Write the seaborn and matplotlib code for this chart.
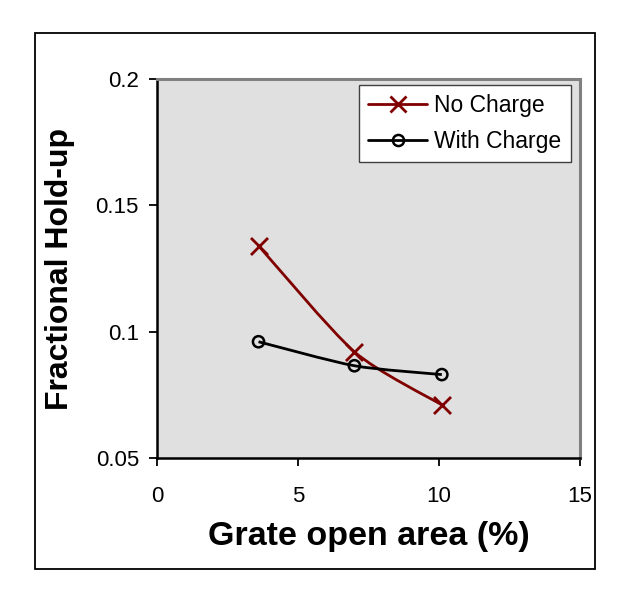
import numpy as np
import pandas as pd
import matplotlib
matplotlib.use("Agg")
import matplotlib.pyplot as plt
import seaborn as sns
from matplotlib.path import Path
from matplotlib.patches import PathPatch, Rectangle

# Values
open_area_no = [3.6, 7.0, 10.1]
holdup_no = [0.134, 0.092, 0.071]
open_area_with = [3.6, 7.0, 10.1]
holdup_with = [0.096, 0.0865, 0.083]
x_ticks = [0, 5, 10, 15]
y_ticks = [0.05, 0.1, 0.15, 0.2]
y_tick_labels = ["0.05", "0.1", "0.15", "0.2"]

df = pd.concat([
    pd.DataFrame({"area": open_area_no, "holdup": holdup_no, "series": "No Charge"}),
    pd.DataFrame({"area": open_area_with, "holdup": holdup_with, "series": "With Charge"}),
])

sns.set_style("white")
plt.rcParams['font.family'] = ['Liberation Sans', 'DejaVu Sans']
plt.rcParams['text.color'] = 'black'
plt.rcParams['axes.labelcolor'] = 'black'
plt.rcParams['xtick.color'] = 'black'
plt.rcParams['ytick.color'] = 'black'

fig = plt.figure(figsize=(6.28, 5.95), dpi=100)
ax = fig.add_axes([0.25, 0.2303, 0.6736, 0.6370])
ax.set_facecolor('#e0e0e0')

colors = {"No Charge": "#800000", "With Charge": "#000000"}


def smooth_path(xs, ys, k=8.0):
    # Excel-style smoothed line drawn as cubic Bezier segments
    pts = np.column_stack([xs, ys])
    n = len(pts)
    verts = [pts[0]]
    codes = [Path.MOVETO]
    for i in range(n - 1):
        p0 = pts[max(i - 1, 0)]
        p1 = pts[i]
        p2 = pts[i + 1]
        p3 = pts[min(i + 2, n - 1)]
        c1 = p1 + (p2 - p0) / k
        c2 = p2 - (p3 - p1) / k
        verts += [c1, c2, p2]
        codes += [Path.CURVE4] * 3
    return Path(verts, codes)


for name, grp in df.groupby("series"):
    ax.add_patch(PathPatch(smooth_path(grp["area"].values, grp["holdup"].values),
                           facecolor='none', edgecolor=colors[name], lw=2, zorder=2))

sns.scatterplot(data=df[df.series == "No Charge"], x="area", y="holdup", ax=ax,
                marker="x", color="#800000", s=150, linewidth=2, zorder=3, legend=False)
sns.scatterplot(data=df[df.series == "With Charge"], x="area", y="holdup", ax=ax,
                marker="o", facecolor='none', edgecolor="black", s=65, linewidth=1.8,
                zorder=3, legend=False)

# legend handles
h1, = ax.plot([], [], color="#800000", marker="x", markersize=12, mew=2, lw=2, label="No Charge")
h2, = ax.plot([], [], color="black", marker="o", markersize=8, mfc='none', mew=1.8, lw=2,
              label="With Charge")
leg = ax.legend(handles=[h1, h2], loc='upper right', bbox_to_anchor=(0.983, 0.99),
                fontsize=16.5, frameon=True, fancybox=False, framealpha=1,
                edgecolor='#404040', borderpad=0.4, handlelength=2.6,
                handletextpad=0.3, labelspacing=0.55, borderaxespad=0.1)
leg.get_frame().set_linewidth(1.0)

ax.set_xlim(0, 15)
ax.set_ylim(0.05, 0.2)
ax.set_xticks(x_ticks)
ax.set_xticklabels([str(t) for t in x_ticks])
ax.set_yticks(y_ticks)
ax.set_yticklabels(y_tick_labels)
ax.tick_params(axis='both', labelsize=16, direction='out', length=6, width=1.3,
               color='black', left=True, bottom=True)
ax.tick_params(axis='x', pad=14)
ax.tick_params(axis='y', pad=7)

for side in ['left', 'bottom']:
    ax.spines[side].set_color('black')
    ax.spines[side].set_linewidth(1.8)
for side in ['top', 'right']:
    ax.spines[side].set_color('#808080')
    ax.spines[side].set_linewidth(2.2)

ax.set_xlabel("Grate open area (%)", fontsize=24.5, fontweight='bold', labelpad=10)
ax.set_ylabel("Fractional Hold-up", fontsize=23, fontweight='bold', labelpad=15)

# outer chart border
fig.add_artist(Rectangle((0.0557, 0.0437), 0.8917, 0.9008, transform=fig.transFigure,
                         fill=False, edgecolor='black', lw=1.3))

fig.savefig("out.png", dpi=100)
